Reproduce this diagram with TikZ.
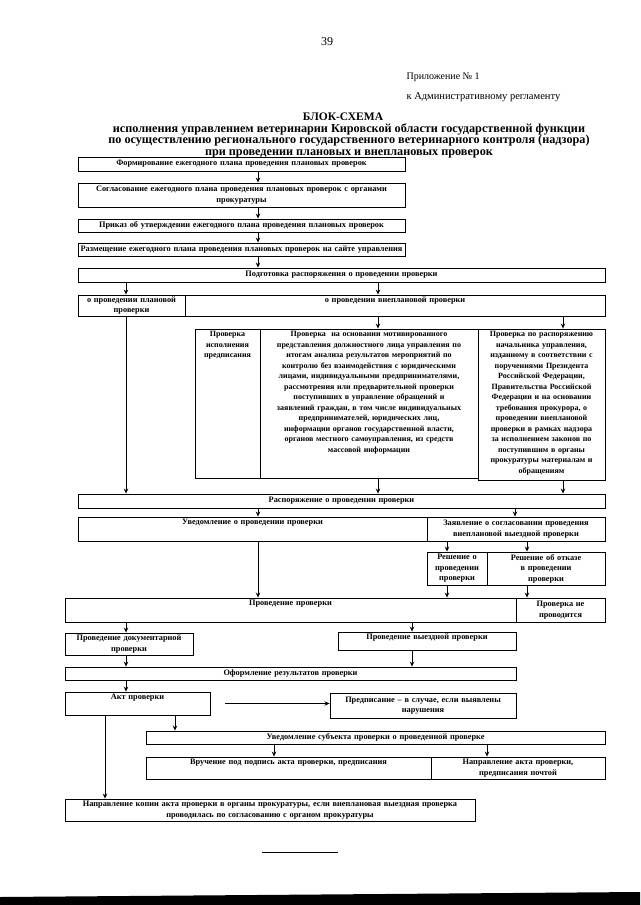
\documentclass[tikz,border=0pt]{standalone}
\usepackage{fontspec}
\setmainfont{Liberation Serif}
\usetikzlibrary{arrows.meta}

\begin{document}
\begin{tikzpicture}[x=1pt, y=-1pt, >={Stealth[length=5pt,width=4.5pt]},
  box/.style={draw, line width=0.9pt, align=center, inner xsep=1.5pt, inner ysep=1.5pt,
    font=\bfseries\fontsize{8.3}{10.5}\selectfont},
  cellfont/.style={font=\bfseries\fontsize{8}{10.5}\selectfont},
  arr/.style={->, line width=0.8pt},
  link/.style={line width=0.8pt},
  topfix/.style={text height=6pt, text depth=#1}]

\useasboundingbox (0,0) rectangle (640,905);

% Header
\node (num) at (327,42) {\fontsize{12}{14}\selectfont 39};
\node[anchor=west] (appx) at (403,77) {\fontsize{10}{12}\selectfont Приложение № 1};
\node[anchor=west] (appx2) at (403,97) {\fontsize{10.5}{12}\selectfont к Административному регламенту};
\node (head) at (343,117) {\bfseries\fontsize{11.5}{12}\selectfont БЛОК-СХЕМА};
\node[align=center, font=\bfseries\fontsize{12.2}{11.5}\selectfont] (title) at (349,140.5)
  {исполнения управлением ветеринарии Кировской области государственной функции\\
   по осуществлению регионального государственного ветеринарного контроля (надзора)\\
   при проведении плановых и внеплановых проверок};

% Columns for the connectors
\coordinate (colK) at (105,0);
\coordinate (colL) at (126,0);
\coordinate (colN) at (175,0);
\coordinate (colM) at (258,0);
\coordinate (colU1) at (274,0);
\coordinate (colR1) at (378,0);
\coordinate (colV) at (412,0);
\coordinate (colD1) at (447,0);
\coordinate (colU2) at (487,0);
\coordinate (colS1) at (515,0);
\coordinate (colD2) at (527,0);
\coordinate (colR2) at (563,0);

% Annual plan
\node[box, minimum width=327pt, text width=324pt, minimum height=14pt] (b1) at (241.5,164)
  {Формирование ежегодного плана проведения плановых проверок};
\node[box, minimum width=327pt, text width=324pt, minimum height=24pt] (b2) at (241.5,195)
  {Согласование ежегодного плана проведения плановых проверок с органами\\ прокуратуры};
\node[box, minimum width=327pt, text width=324pt, minimum height=13pt] (b3) at (241.5,225.5)
  {Приказ об утверждении ежегодного плана проведения плановых проверок};
\node[box, minimum width=327pt, text width=324pt, minimum height=13pt] (b4) at (241.5,249.5)
  {Размещение ежегодного плана проведения плановых проверок на сайте управления};
\node[box, minimum width=527pt, text width=524pt, minimum height=14pt] (b5) at (341.5,275)
  {Подготовка распоряжения о проведении проверки};

% Kind of check
\node[box, minimum width=107pt, text width=104pt, minimum height=21pt] (b6a) at (131.5,305.5)
  {о проведении плановой\\ проверки};
\node[box, minimum width=420pt, text width=417pt, topfix=12pt] (b6b) at (395,305.5)
  {о проведении внеплановой проверки};

% Grounds for an unscheduled check
\node[box, cellfont, minimum width=65pt, text width=62pt, topfix=140pt] (b7a) at (227.5,403.5)
  {Проверка\\ исполнения\\ предписания};
\node[box, cellfont, minimum width=218pt, text width=215pt, topfix=140pt] (b7b) at (369,403.5)
  {Проверка \ на основании мотивированного\\
   представления должностного лица управления по\\
   итогам анализа результатов мероприятий по\\
   контролю без взаимодействия с юридическими\\
   лицами, индивидуальными предпринимателями,\\
   рассмотрения или предварительной проверки\\
   поступивших в управление обращений и\\
   заявлений граждан, в том числе индивидуальных\\
   предпринимателей, юридических лиц,\\
   информации органов государственной власти,\\
   органов местного самоуправления, из средств\\
   массовой информации};
\node[box, cellfont, minimum width=127pt, text width=124pt, topfix=142pt] (b7c) at (541.5,404.5)
  {Проверка по распоряжению\\
   начальника управления,\\
   изданному в соответствии с\\
   поручениями Президента\\
   Российской Федерации,\\
   Правительства Российской\\
   Федерации и на основании\\
   требования прокурора, о\\
   проведении внеплановой\\
   проверки в рамках надзора\\
   за исполнением законов по\\
   поступившим в органы\\
   прокуратуры материалам и\\
   обращениям};

% Order and notice
\node[box, minimum width=527pt, text width=524pt, minimum height=14pt] (b8) at (341.5,501)
  {Распоряжение о проведении проверки};
\node[box, minimum width=349pt, text width=346pt, topfix=15pt] (b9a) at (252.5,529)
  {Уведомление о проведении проверки};
\node[box, minimum width=178pt, text width=175pt, minimum height=24pt] (b9b) at (516,529)
  {Заявление о согласовании проведения\\ внеплановой выездной проверки};
\node[box, minimum width=60pt, text width=57pt, minimum height=33pt] (b10a) at (457,568.5)
  {Решение о\\ проведении\\ проверки};
\node[box, minimum width=118pt, text width=115pt, minimum height=33pt] (b10b) at (546,568.5)
  {Решение об отказе\\ в проведении\\ проверки};

% The check
\node[box, minimum width=451pt, text width=448pt, topfix=15pt] (b11a) at (290.5,610)
  {Проведение проверки};
\node[box, minimum width=89pt, text width=86pt, minimum height=24pt] (b11b) at (560.5,610)
  {Проверка не\\ проводится};
\node[box, minimum width=128pt, text width=125pt, minimum height=22pt] (b12a) at (129,644)
  {Проведение документарной\\ проверки};
\node[box, minimum width=178pt, text width=175pt, topfix=9pt] (b12b) at (427,641)
  {Проведение выездной проверки};
\node[box, minimum width=451pt, text width=448pt, minimum height=13pt] (b13) at (290.5,673.5)
  {Оформление результатов проверки};

% Results
\node[box, minimum width=145pt, text width=142pt, topfix=14pt] (b14) at (137.5,703.5)
  {Акт проверки};
\node[box, minimum width=186pt, text width=183pt, minimum height=25pt] (b15) at (423,705.5)
  {Предписание – в случае, если выявлены\\ нарушения};
\node[box, minimum width=459pt, text width=456pt, minimum height=13pt] (b16) at (375.5,737.5)
  {Уведомление субъекта проверки о проведенной проверке};
\node[box, minimum width=285pt, text width=282pt, topfix=13pt] (b17a) at (288.5,768)
  {Вручение под подпись акта проверки, предписания};
\node[box, minimum width=174pt, text width=171pt, minimum height=22pt] (b17b) at (518,768)
  {Направление акта проверки,\\ предписания почтой};
\node[box, minimum width=410pt, text width=407pt, minimum height=22pt] (b18) at (270,810)
  {Направление копии акта проверки в органы прокуратуры, если внеплановая выездная проверка\\
   проводилась по согласованию с органом прокуратуры};

% Connectors
\draw[arr] (b1.south -| colM) -- (b2.north -| colM);
\draw[arr] (b2.south -| colM) -- (b3.north -| colM);
\draw[arr] (b3.south -| colM) -- (b4.north -| colM);
\draw[arr] (b4.south -| colM) -- (b5.north -| colM);
\draw[arr] (b5.south -| colL) -- (b6a.north -| colL);
\draw[arr] (b5.south -| colR1) -- (b6b.north -| colR1);
\draw[arr] (b6b.south -| colR1) -- (b7b.north -| colR1);
\draw[arr] (b6b.south -| colR2) -- (b7c.north -| colR2);
\draw[arr] (b6a.south -| colL) -- (b8.north -| colL);
\draw[arr] (b7b.south -| colR1) -- (b8.north -| colR1);
\draw[arr] (b7c.south -| colR2) -- (b8.north -| colR2);
\draw[arr] (b8.south -| colM) -- (b9a.north -| colM);
\draw[arr] (b8.south -| colS1) -- (b9b.north -| colS1);
\draw[arr] (b9a.south -| colM) -- (b11a.north -| colM);
\draw[arr] (b9b.south -| colD1) -- (b10a.north -| colD1);
\draw[arr] (b9b.south -| colD2) -- (b10b.north -| colD2);
\draw[arr] (b10a.south -| colD1) -- (b11a.north -| colD1);
\draw[arr] (b10b.south -| colD2) -- (b11b.north -| colD2);
\draw[arr] (b11a.south -| colL) -- (b12a.north -| colL);
\draw[arr] (b11a.south -| colV) -- (b12b.north -| colV);
\draw[arr] (b12a.south -| colL) -- (b13.north -| colL);
\draw[arr] (b12b.south -| colV) -- (b13.north -| colV);
\draw[arr] (b13.south -| colL) -- (b14.north -| colL);
\draw[arr, shorten <=15pt] (b14.east) -- (b14.east -| b15.west);
\draw[arr] (b14.south -| colN) -- (b16.north -| colN);
\draw[arr] (b14.south -| colK) -- (b18.north -| colK);
\draw[arr] (b16.south -| colU1) -- (b17a.north -| colU1);
\draw[arr] (b16.south -| colU2) -- (b17b.north -| colU2);

% Footnote rule and scan edge
\draw[link] (262,852) -- (338,852);
\fill (0,897) -- (640,892) -- (640,905) -- (0,905) -- cycle;

\end{tikzpicture}
\end{document}
